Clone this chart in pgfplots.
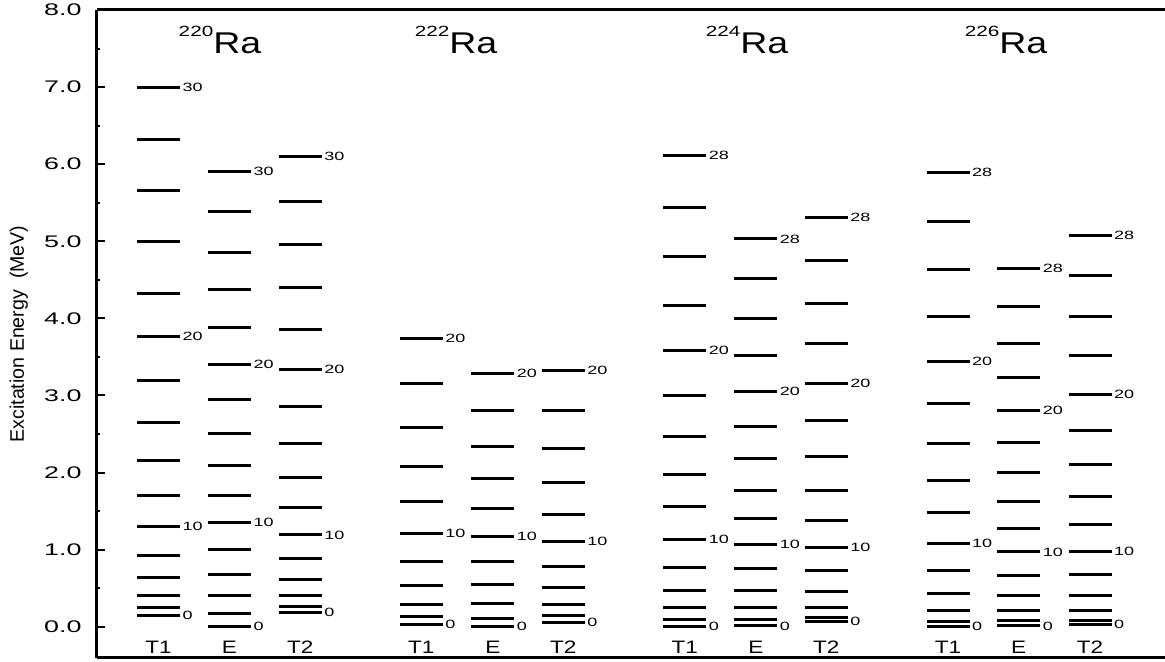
\documentclass[border=0pt]{standalone}
\usepackage{fontspec}
\setmainfont{Liberation Sans}
\newfontfamily\wideA[FakeStretch=1.6]{Liberation Sans}
\newfontfamily\wideS[FakeStretch=1.5]{Liberation Sans}
\newfontfamily\wideB[FakeStretch=1.25]{Liberation Sans}
\newfontfamily\wideC[FakeStretch=1.4]{Liberation Sans}
\usepackage{pgfplots}
\usepackage{pgfplotstable}
\pgfplotsset{compat=1.18}
\newcommand\spinfont{\wideS\fontsize{6}{7}\selectfont}
\newcommand\tickfont{\wideA\fontsize{8.4}{9}\selectfont}
\newcommand\tlabfont{\wideB\fontsize{9}{10}\selectfont}
\newcommand\nuc[1]{\raisebox{8.6pt}{\wideC\fontsize{7.4}{8}\selectfont #1}{\wideB\fontsize{15}{17}\selectfont Ra}}

% 220Ra
\pgfplotstableread[col sep=comma]{
lab,T1,E,T2
0,0.15,0.00,0.18
,0.25,0.17,0.265
,0.40,0.40,0.40
,0.64,0.68,0.615
,0.93,0.995,0.89
10,1.30,1.35,1.19
,1.70,1.70,1.54
,2.15,2.09,1.94
,2.65,2.51,2.37
,3.19,2.95,2.85
20,3.77,3.40,3.34
,4.32,3.88,3.85
,5.00,4.37,4.40
,5.655,4.86,4.96
,6.32,5.38,5.52
30,7.00,5.91,6.096
}\raA
% 222Ra
\pgfplotstableread[col sep=comma]{
lab,T1,E,T2
0,0.035,0.00,0.06
,0.13,0.11,0.14
,0.29,0.30,0.29
,0.53,0.55,0.51
,0.84,0.85,0.78
10,1.21,1.17,1.11
,1.62,1.53,1.46
,2.08,1.925,1.87
,2.59,2.34,2.31
,3.16,2.80,2.80
20,3.74,3.29,3.32
}\raB
% 224Ra
\pgfplotstableread[col sep=comma]{
lab,T1,E,T2
0,0.00,0.01,0.065
,0.087,0.087,0.12
,0.25,0.25,0.25
,0.475,0.475,0.46
,0.765,0.75,0.735
10,1.13,1.07,1.03
,1.56,1.41,1.38
,1.98,1.77,1.77
,2.47,2.18,2.205
,3.005,2.60,2.67
20,3.58,3.05,3.16
,4.17,3.52,3.67
,4.80,4.00,4.19
,5.44,4.52,4.755
28,6.11,5.03,5.31
}\raC
% 226Ra
\pgfplotstableread[col sep=comma]{
lab,T1,E,T2
0,0.00,0.01,0.035
,0.065,0.078,0.078
,0.215,0.215,0.215
,0.43,0.41,0.41
,0.735,0.67,0.68
10,1.08,0.97,0.98
,1.48,1.275,1.32
,1.90,1.62,1.695
,2.38,2.00,2.11
,2.90,2.39,2.55
20,3.445,2.80,3.015
,4.03,3.23,3.515
,4.635,3.68,4.02
,5.26,4.16,4.55
28,5.89,4.65,5.08
}\raD

\pgfplotsset{lev/.style={only marks, mark=-, mark size=10.75pt,
  mark options={line width=1.5pt, black},
  nodes near coords, point meta=explicit symbolic,
  every node near coord/.append style={anchor=west, xshift=11.3pt, inner sep=0pt, font=\spinfont, black}}}

\begin{document}
\begin{tikzpicture}
\begin{axis}[
  scale only axis, width=534pt, height=324pt,
  xmin=97, xmax=1165, ymin=-0.406, ymax=8.0,
  axis x line*=box, axis y line*=left,
  axis line style={line width=1.5pt, black},
  xtick=\empty,
  ytick={0,1,...,8}, minor ytick={0.5,1.5,...,7.5},
  tick align=inside, major tick length=4pt, minor tick length=1.5pt,
  tick style={line width=1pt, black},
  /pgf/number format/.cd, assume math mode=true, fixed, fixed zerofill, precision=1,
  /pgfplots/.cd,
  yticklabel style={font=\tickfont, inner sep=0pt, xshift=-7.5pt},
  ylabel={Excitation Energy\ \ (MeV)},
  ylabel style={at={(axis description cs:-0.0684,0.5)}, anchor=base, inner sep=0pt, font=\fontsize{9.8}{11}\selectfont},
  clip=false,
]
\coordinate (sw) at (rel axis cs:0,0);
\coordinate (ne) at (rel axis cs:1,1);
% 220Ra
\addplot[lev] table[x expr=158.5, y=T1, meta=lab] {\raA};
\addplot[lev] table[x expr=229.5, y=E, meta=lab] {\raA};
\addplot[lev] table[x expr=300.3, y=T2, meta=lab] {\raA};
% 222Ra
\addplot[lev] table[x expr=421.3, y=T1, meta=lab] {\raB};
\addplot[lev] table[x expr=492.8, y=E, meta=lab] {\raB};
\addplot[lev] table[x expr=563.3, y=T2, meta=lab] {\raB};
% 224Ra
\addplot[lev] table[x expr=684.7, y=T1, meta=lab] {\raC};
\addplot[lev] table[x expr=755.8, y=E, meta=lab] {\raC};
\addplot[lev] table[x expr=826.3, y=T2, meta=lab] {\raC};
% 226Ra
\addplot[lev] table[x expr=948.0, y=T1, meta=lab] {\raD};
\addplot[lev] table[x expr=1018.7, y=E, meta=lab] {\raD};
\addplot[lev] table[x expr=1090.0, y=T2, meta=lab] {\raD};

\node[anchor=base, inner sep=0pt] at (axis cs:220,7.437) {\nuc{220}};
\node[anchor=base, inner sep=0pt] at (axis cs:456,7.437) {\nuc{222}};
\node[anchor=base, inner sep=0pt] at (axis cs:747,7.437) {\nuc{224}};
\node[anchor=base, inner sep=0pt] at (axis cs:1006,7.437) {\nuc{226}};

\node[anchor=base, inner sep=0pt, font=\tlabfont] at (axis cs:158.5,-0.345) {T1};
\node[anchor=base, inner sep=0pt, font=\tlabfont] at (axis cs:229.5,-0.345) {E};
\node[anchor=base, inner sep=0pt, font=\tlabfont] at (axis cs:300.3,-0.345) {T2};
\node[anchor=base, inner sep=0pt, font=\tlabfont] at (axis cs:421.3,-0.345) {T1};
\node[anchor=base, inner sep=0pt, font=\tlabfont] at (axis cs:492.8,-0.345) {E};
\node[anchor=base, inner sep=0pt, font=\tlabfont] at (axis cs:563.3,-0.345) {T2};
\node[anchor=base, inner sep=0pt, font=\tlabfont] at (axis cs:684.7,-0.345) {T1};
\node[anchor=base, inner sep=0pt, font=\tlabfont] at (axis cs:755.8,-0.345) {E};
\node[anchor=base, inner sep=0pt, font=\tlabfont] at (axis cs:826.3,-0.345) {T2};
\node[anchor=base, inner sep=0pt, font=\tlabfont] at (axis cs:948.0,-0.345) {T1};
\node[anchor=base, inner sep=0pt, font=\tlabfont] at (axis cs:1018.7,-0.345) {E};
\node[anchor=base, inner sep=0pt, font=\tlabfont] at (axis cs:1090.0,-0.345) {T2};
\end{axis}
\pgfresetboundingbox
\path[use as bounding box] ([shift={(-48.5pt,-2pt)}]sw) rectangle ([shift={(0pt,5pt)}]ne);
\end{tikzpicture}
\end{document}
